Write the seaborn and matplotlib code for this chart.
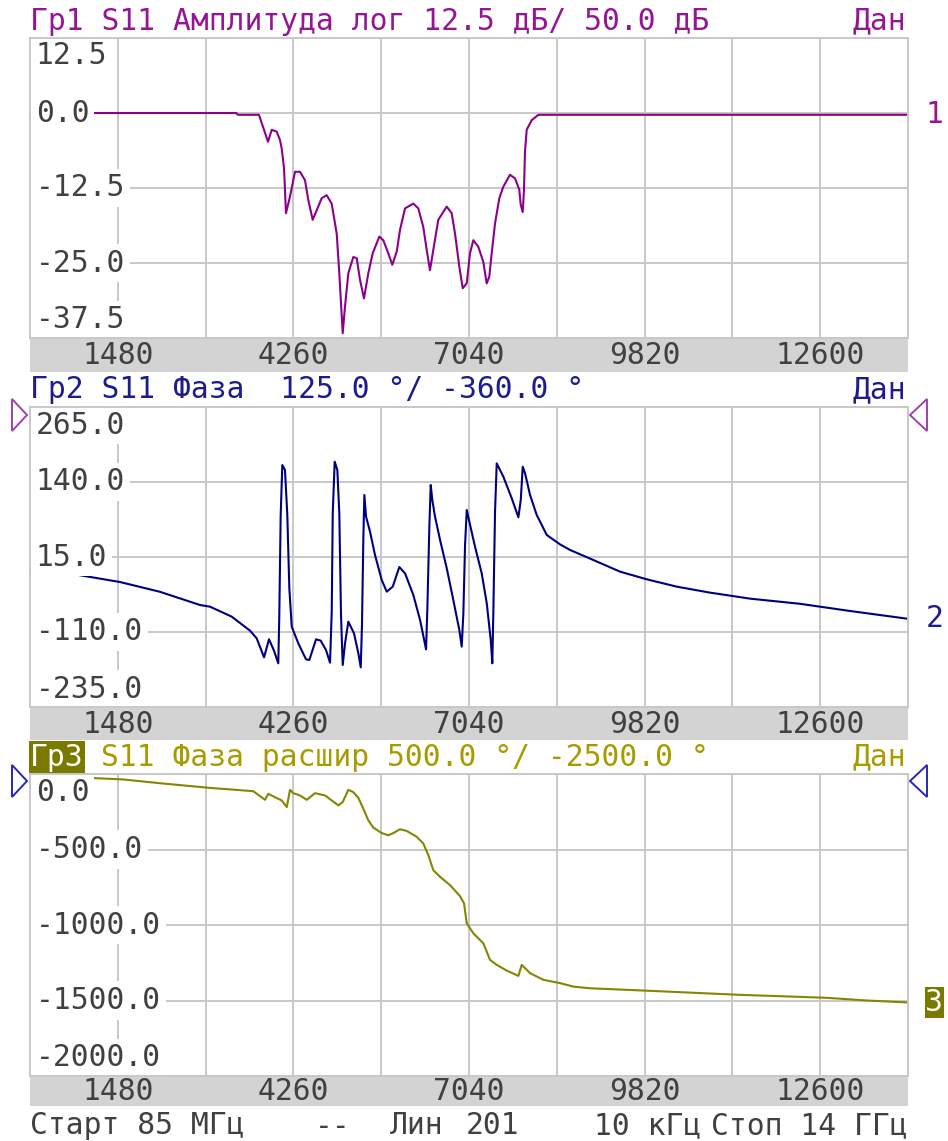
import numpy as np
import matplotlib
matplotlib.use("Agg")
import matplotlib.pyplot as plt
import matplotlib.transforms as mtransforms
from matplotlib.patches import Rectangle, Polygon
import seaborn as sns

sns.set_style("white")
plt.rcParams['font.family'] = ['DejaVu Sans Mono', 'DejaVu Sans']

W, H = 948, 1141
FS = 21.3
CW = 0.602 * FS * 100 / 72  # monospace advance in px

# sweep: 85 MHz .. 14 GHz, 10 divisions
f_start, f_stop = 85, 14000
xtick_vals = [1476.5, 4259.5, 7042.5, 9825.5, 12608.5]
xtick_labels = ["1480", "4260", "7040", "9820", "12600"]

# trace 1: S11 log magnitude, dB
amp_freq = [85, 3350, 3381, 3714, 3857, 3916, 3995, 4047, 4074, 4111, 4142, 4206,
            4285, 4364, 4443, 4496, 4565, 4629, 4708, 4787, 4866, 4946, 4987, 5041,
            5077, 5130, 5209, 5263, 5315, 5378, 5447, 5516, 5621, 5684, 5764, 5827,
            5897, 5949, 6028, 6160, 6239, 6318, 6372, 6424, 6477, 6556, 6689, 6768,
            6821, 6889, 6943, 7006, 7058, 7111, 7190, 7269, 7323, 7364, 7402, 7455,
            7523, 7586, 7692, 7772, 7840, 7862, 7894, 7914, 7930, 7957, 8036, 8141,
            14000]
amp_db = [0.0, 0.0, -0.3, -0.3, -4.8, -2.8, -3.1, -4.5, -5.9, -9.2, -16.7, -13.9,
          -9.8, -9.8, -11.2, -14.5, -17.8, -16.2, -14.2, -13.7, -15.1, -20.1, -26.7, -36.7,
          -32.3, -26.7, -24.0, -24.2, -27.8, -30.9, -26.7, -23.4, -20.6, -21.2, -23.4, -25.3,
          -23.1, -19.5, -15.9, -15.1, -15.9, -19.0, -22.8, -26.2, -22.8, -17.8, -15.6, -16.7,
          -20.1, -25.6, -29.2, -28.4, -23.4, -21.2, -22.3, -24.8, -28.4, -27.3, -23.4, -18.4,
          -14.2, -12.3, -10.3, -10.9, -12.8, -15.3, -16.5, -12.8, -6.4, -2.8, -1.2, -0.3,
          -0.3]

# trace 2: S11 phase, deg
ph_freq = [85, 481, 1511, 2145, 2779, 2938, 3282, 3572, 3678, 3794, 3873, 3952,
           4020, 4036, 4058, 4084, 4126, 4163, 4195, 4233, 4337, 4459, 4512, 4618,
           4692, 4776, 4840, 4867, 4883, 4914, 4956, 4987, 5014, 5041, 5078, 5130,
           5220, 5289, 5327, 5347, 5368, 5384, 5411, 5474, 5553, 5659, 5739, 5834,
           5938, 6029, 6160, 6267, 6362, 6382, 6414, 6436, 6461, 6504, 6584, 6690,
           6794, 6889, 6927, 6953, 6980, 7007, 7048, 7138, 7244, 7324, 7387, 7412,
           7428, 7455, 7482, 7587, 7720, 7825, 7863, 7894, 7931, 8010, 8116, 8275,
           8486, 8644, 9013, 9436, 9860, 10335, 10863, 11497, 12289, 13082, 14000]
ph_deg = [-5, -8.3, -26.7, -43, -65, -67.8, -84.4, -107.8, -120.6, -152.2, -122.2, -141.1,
          -162.2, -81.7, 85, 168.3, 160, 85, -37.2, -101.2, -128.8, -155.5, -156.7, -122.2,
          -124.4, -140, -161.1, -76.1, 87.8, 173.9, 160, 87.8, -81.7, -165, -128.8, -92.8,
          -112.2, -145.6, -168.9, -95.6, 46.1, 118.3, 82.2, 57.2, 18.3, -23.3, -42.8, -34.4,
          -1.7, -12.2, -48.3, -90, -138.9, -73.3, 65.5, 135, 110, 82.2, 43.3, -3.9,
          -56.7, -106.7, -134.4, -78.9, 35, 93.3, 73.9, 32.2, -12.2, -62.2, -123.3, -162.2,
          -78.9, 90.5, 171.1, 148.8, 112.8, 81.2, 110, 165.5, 154.5, 118.3, 85, 51.7,
          36, 26.7, 10, -9.4, -22.2, -34.4, -44.4, -54.4, -63, -75, -88]

# trace 3: S11 unwrapped phase, deg
uph_freq = [85, 1036, 1559, 2193, 2938, 3255, 3624, 3810, 3862, 3968, 4074, 4154,
            4206, 4258, 4364, 4471, 4602, 4761, 4867, 4972, 5041, 5130, 5209, 5289,
            5368, 5447, 5526, 5659, 5764, 5843, 5949, 6056, 6214, 6318, 6398, 6477,
            6584, 6742, 6900, 6964, 7007, 7111, 7269, 7376, 7482, 7640, 7825, 7878,
            8010, 8221, 8486, 8696, 8961, 9912, 11307, 12702, 13351, 14000]
uph_deg = [-5, -26, -36, -63, -92, -102, -114, -171, -131, -154, -175, -219,
           -105, -127, -142, -171, -127, -142, -175, -208, -186, -105, -120, -158,
           -230, -307, -355, -391, -406, -391, -366, -377, -416, -460, -537, -637,
           -681, -736, -809, -857, -989, -1055, -1121, -1231, -1264, -1302, -1337, -1264,
           -1319, -1363, -1385, -1408, -1419, -1436, -1462, -1482, -1500, -1513]

amp_ticks = [12.5, 0.0, -12.5, -25.0, -37.5]
ph_ticks = [265.0, 140.0, 15.0, -110.0, -235.0]
uph_ticks = [0.0, -500.0, -1000.0, -1500.0, -2000.0]

GRID = '#c8c8c8'
TXT = '#404040'
STRIP = '#d3d3d3'
PURPLE, PURPLE_T = '#8c008c', '#961496'
NAVY, NAVY_T = '#00007f', '#1c1c8c'
OLIVE, OLIVE_T = '#858500', '#a89b00'
OLIVE_BOX = '#7a7a00'

fig = plt.figure(figsize=(W / 100, H / 100), dpi=100)

ov = fig.add_axes([0, 0, 1, 1])
ov.set_xlim(0, W)
ov.set_ylim(H, 0)
ov.axis('off')


def px_axes(l, t, w, h):
    return fig.add_axes([l / W, 1 - (t + h) / H, w / W, h / H])


panels = [
    dict(top=38, h=300, strip=34, x=amp_freq, y=amp_db, ticks=amp_ticks, color=PURPLE),
    dict(top=407, h=300, strip=33, x=ph_freq, y=ph_deg, ticks=ph_ticks, color=NAVY),
    dict(top=774, h=302, strip=30, x=uph_freq, y=uph_deg, ticks=uph_ticks, color=OLIVE),
]

axes = []
for p in panels:
    ov.add_patch(Rectangle((30, p['top'] + p['h']), 878, p['strip'], color=STRIP, lw=0))
    ax = px_axes(30, p['top'], 878, p['h'])
    sns.lineplot(x=p['x'], y=p['y'], ax=ax, color=p['color'], linewidth=1.5,
                 estimator=None, sort=False)
    ticks = p['ticks']
    step = ticks[0] - ticks[1]
    ax.set_xlim(f_start, f_stop)
    ax.set_ylim(ticks[-1], ticks[0])
    ax.set_xticks(np.linspace(f_start, f_stop, 11))
    ax.set_yticks(ticks)
    ax.set_axisbelow(True)
    ax.grid(True, color=GRID, lw=1.4)
    ax.tick_params(length=0, labelbottom=False, labelleft=False)
    for s in ax.spines.values():
        s.set_color(GRID)
        s.set_linewidth(1.4)
        s.set_zorder(10)

    ty = mtransforms.blended_transform_factory(ax.transAxes, ax.transData)
    for i, v in enumerate(ticks):
        yv = v
        if i == 0:
            yv = v - 0.24 * step
        elif i == len(ticks) - 1:
            yv = v + 0.24 * step
        ax.text(0.0065, yv, f"{v:.1f}", transform=ty, ha='left', va='center',
                color=TXT, fontsize=FS, zorder=5,
                bbox=dict(facecolor='white', edgecolor='none', pad=3.5))

    tx = mtransforms.blended_transform_factory(ax.transData, ax.transAxes)
    for v, lab in zip(xtick_vals, xtick_labels):
        ax.text(v, -(p['strip'] / 2 + 1) / p['h'], lab, transform=tx, ha='center',
                va='center', color=TXT, fontsize=FS, clip_on=False)
    axes.append((ax, ty))

# titles
ov.text(30, 21, "Гр1 S11 Амплитуда лог 12.5 дБ/ 50.0 дБ", color=PURPLE_T, fontsize=FS,
        ha='left', va='center')
ov.text(906, 21, "Дан", color=PURPLE_T, fontsize=FS, ha='right', va='center')
ov.text(30, 390, "Гр2 S11 Фаза  125.0 °/ -360.0 °", color=NAVY_T, fontsize=FS,
        ha='left', va='center')
ov.text(906, 390, "Дан", color=NAVY_T, fontsize=FS, ha='right', va='center')
ov.text(30, 757, "Гр3", color='white', fontsize=FS, ha='left', va='center',
        bbox=dict(facecolor=OLIVE_BOX, edgecolor='none', pad=1))
ov.text(30 + 4 * CW, 757, "S11 Фаза расшир 500.0 °/ -2500.0 °", color=OLIVE_T,
        fontsize=FS, ha='left', va='center')
ov.text(906, 757, "Дан", color=OLIVE_T, fontsize=FS, ha='right', va='center')

# trace end markers
ax1, t1 = axes[0]
ax1.text(1.03, amp_db[-1], "1", transform=t1, color=PURPLE_T, fontsize=FS,
         ha='center', va='center', clip_on=False)
ax2, t2 = axes[1]
ax2.text(1.03, ph_deg[-1], "2", transform=t2, color=NAVY_T, fontsize=FS,
         ha='center', va='center', clip_on=False)
ax3, t3 = axes[2]
ax3.text(1.03, uph_deg[-1], "3", transform=t3, color='white', fontsize=FS,
         ha='center', va='center', clip_on=False,
         bbox=dict(facecolor=OLIVE_BOX, edgecolor='none', pad=0.5))

# reference position triangles
for cy, col in [(415, '#a040b0'), (781, '#2828b0')]:
    ov.add_patch(Polygon([(12, cy - 16), (12, cy + 16), (27, cy)], closed=True,
                         fill=False, edgecolor=col, lw=1.4))
    ov.add_patch(Polygon([(927, cy - 16), (927, cy + 16), (910, cy)], closed=True,
                         fill=False, edgecolor=col, lw=1.4))

# footer
for xp, s, ha in [(30, "Старт 85 МГц", 'left'), (315, "--", 'left'), (390, "Лин", 'left'),
                  (466, "201", 'left'), (594, "10 кГц", 'left'), (908, "Стоп 14 ГГц", 'right')]:
    ov.text(xp, 1126, s, color=TXT, fontsize=FS, ha=ha, va='center')

fig.savefig("out.png", dpi=100)
